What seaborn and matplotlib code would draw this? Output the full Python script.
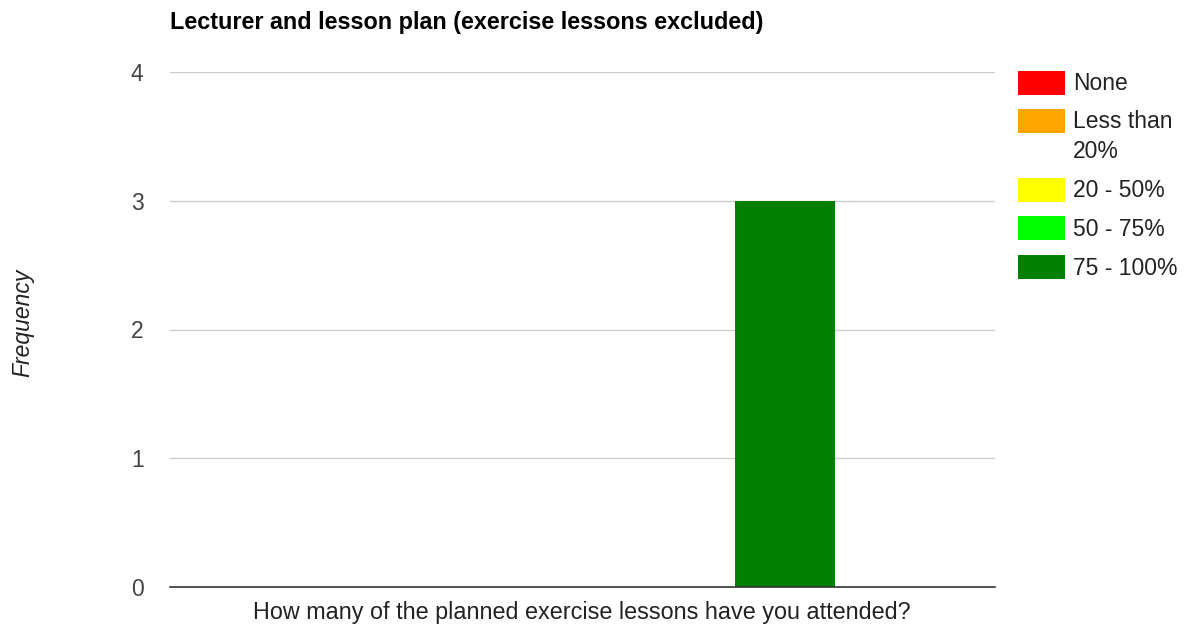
import matplotlib
matplotlib.use("Agg")
import matplotlib.pyplot as plt
import seaborn as sns
import pandas as pd
from matplotlib.patches import Rectangle

title = "Lecturer and lesson plan (exercise lessons excluded)"
category = ["How many of the planned exercise lessons have you attended?"]
series = ["None", "Less than 20%", "20 - 50%", "50 - 75%", "75 - 100%"]
legend_labels = ["None", "Less than\n20%", "20 - 50%", "50 - 75%", "75 - 100%"]
values = [0, 0, 0, 0, 3]
colors = ["#ff0000", "#ffa500", "#ffff00", "#00ff00", "#008000"]
yticks = [0, 1, 2, 3, 4]

sns.set_style("white")
plt.rcParams['font.family'] = ['Liberation Sans', 'DejaVu Sans']

W, H = 1197, 635
FS = 16.5
fig = plt.figure(figsize=(W / 100, H / 100), dpi=100)
ax = fig.add_axes([170 / W, 1 - 587 / H, (995 - 170) / W, (587 - 72) / H])

df = pd.DataFrame({"cat": category * len(series), "series": series, "val": values})
sns.barplot(data=df, x="cat", y="val", hue="series", hue_order=series,
            palette=colors, width=0.606, gap=0, saturation=1, ax=ax,
            legend=False, edgecolor="none", linewidth=0)

ax.set_xlim(-0.5035, 0.4965)
ax.set_ylim(0, 4)
ax.set_yticks(yticks)
ax.set_yticklabels([str(t) for t in yticks], fontsize=FS, color="#444444")
ax.tick_params(axis="y", length=0, pad=19)
ax.set_xticks([])
ax.grid(axis="y", color="#cccccc", linewidth=1)
ax.set_axisbelow(True)
for s in ["top", "right", "left"]:
    ax.spines[s].set_visible(False)
ax.spines["bottom"].set_color("#333333")
ax.spines["bottom"].set_linewidth(1.2)
ax.spines["bottom"].set_zorder(5)
ax.set_xlabel("")
ax.set_ylabel("")

fig.text(170 / W, 1 - 22 / H, title, fontsize=16.8, fontweight="bold",
         color="#000000", ha="left", va="center")
fig.text(582 / W, 1 - 613 / H, category[0], fontsize=16.8, color="#222222",
         ha="center", va="center")
fig.text(23 / W, 1 - 323 / H, "Frequency", fontsize=FS, style="italic",
         color="#222222", rotation=90, ha="center", va="center")

# legend
tops = [71, 109, 178, 216, 255]
for lab, col, t in zip(legend_labels, colors, tops):
    fig.patches.append(Rectangle((1018 / W, 1 - (t + 24) / H), 47 / W, 24 / H,
                                 transform=fig.transFigure, facecolor=col,
                                 edgecolor="none"))
    if "\n" in lab:
        for i, part in enumerate(lab.split("\n")):
            fig.text(1073 / W, 1 - (t + 13 + 29 * i) / H, part, fontsize=FS,
                     color="#222222", ha="left", va="center")
    else:
        fig.text(1073 / W, 1 - (t + 13) / H, lab, fontsize=FS, color="#222222",
                 ha="left", va="center")

fig.savefig("out.png", dpi=100)
